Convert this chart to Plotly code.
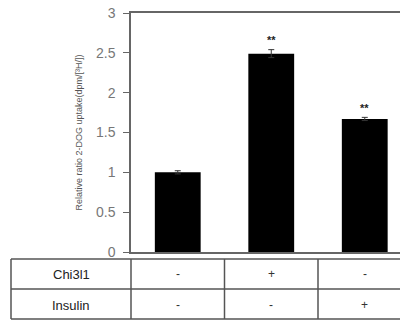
import plotly.graph_objects as go

groups = ["Control", "Chi3l1", "Insulin"]
values = [1.0, 2.49, 1.67]
errors = [0.02, 0.05, 0.02]
stars = ["", "**", "**"]
chi3l1_row = ["-", "+", "-"]
insulin_row = ["-", "-", "+"]
row_labels = ["Chi3l1", "Insulin"]
y_ticks = [0, 0.5, 1, 1.5, 2, 2.5, 3]
y_tick_text = ["0", "0.5", "1", "1.5", "2", "2.5", "3"]

W, H = 400, 322
L, T, B = 131, 13, 70
plot_w = W - L
plot_h = H - T - B
cat_px = 93.5

xs = list(range(len(groups)))
fig = go.Figure()
fig.add_trace(go.Bar(
    x=xs, y=values, width=0.49,
    marker=dict(color="black", line=dict(width=0)),
    error_y=dict(type="data", array=errors, color="#333", thickness=1, width=3),
))

def py(p):
    return (H - B - p) / plot_h

def px(p):
    return (p - L) / plot_w

ann = []
for i, s in enumerate(stars):
    if s:
        ann.append(dict(x=i, y=values[i] + errors[i] + 0.12, xref="x", yref="y", text="<b>" + s + "</b>",
                        showarrow=False, xanchor="center", yanchor="middle",
                        font=dict(size=11, color="#222", family="Liberation Sans")))
row_y = [py(274), py(305)]
for lab, yy in zip(row_labels, row_y):
    ann.append(dict(x=px(71), y=yy, xref="paper", yref="paper", text=lab, showarrow=False,
                    xanchor="center", yanchor="middle",
                    font=dict(size=13, color="#222", family="Liberation Sans")))
for row, yy in zip([chi3l1_row, insulin_row], row_y):
    for i, s in enumerate(row):
        ann.append(dict(x=i, y=yy, xref="x", yref="paper", text=s, showarrow=False,
                        xanchor="center", yanchor="middle",
                        font=dict(size=12, color="#333", family="Liberation Sans")))

shapes = []
lc = dict(color="#555", width=1.5)
for yp in [259, 289, 319]:
    shapes.append(dict(type="line", xref="paper", yref="paper", x0=px(11), x1=1.0,
                       y0=py(yp), y1=py(yp), line=lc))
shapes.append(dict(type="line", xref="paper", yref="paper", x0=px(11), x1=px(11),
                   y0=py(259), y1=py(319), line=lc))
shapes.append(dict(type="line", xref="paper", yref="paper", x0=0, x1=0,
                   y0=py(259), y1=py(319), line=lc))
for xv in [0.5, 1.5]:
    shapes.append(dict(type="line", xref="x", yref="paper", x0=xv, x1=xv,
                       y0=py(259), y1=py(319), line=lc))

fig.update_layout(
    width=W, height=H,
    margin=dict(l=L, r=0, t=T, b=B),
    plot_bgcolor="white", paper_bgcolor="white",
    showlegend=False,
    annotations=ann, shapes=shapes,
    xaxis=dict(range=[-0.5, -0.5 + plot_w / cat_px], showticklabels=False, ticks="",
               showline=True, mirror=True, linecolor="#666", linewidth=1.5,
               showgrid=False, zeroline=False, fixedrange=True),
    yaxis=dict(range=[0, 3], tickvals=y_ticks, ticktext=y_tick_text, ticks="outside",
               ticklen=6, tickcolor="#666", showline=True, linecolor="#666", linewidth=1.5,
               ticklabelstandoff=5,
               showgrid=False, zeroline=False,
               tickfont=dict(size=14, color="#777", family="Liberation Sans"),
               title=dict(text="Relative ratio 2-DOG uptake(dpm/[³H/])",
                          font=dict(size=9, color="#555", family="Liberation Sans"),
                          standoff=12)),
    font=dict(family="Liberation Sans"),
)
fig.write_html("out.html")
